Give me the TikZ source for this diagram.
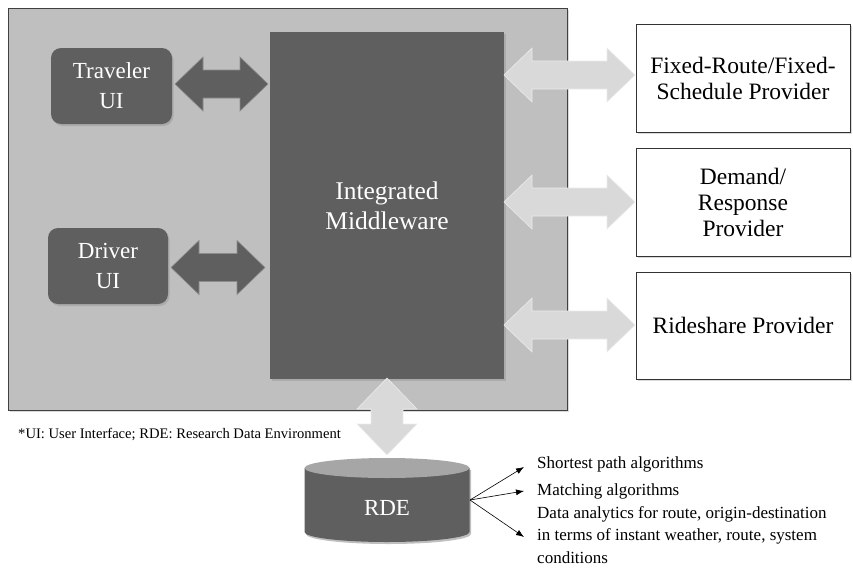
\documentclass[tikz,border=0pt]{standalone}
\usepackage{fontspec}
\setmainfont{Liberation Serif}
\usetikzlibrary{shadows,arrows.meta}
\definecolor{dkfill}{HTML}{5F5F5F}
\definecolor{panelfill}{HTML}{BFBFBF}
\definecolor{lightarrow}{HTML}{D9D9D9}
\definecolor{cyltop}{HTML}{A6A6A6}
\newcommand\fatHarrow[4]{%
  \draw[#4] (#1,#3) -- ({#1+28},{#3-27}) -- ({#1+28},{#3-14}) -- ({#2-28},{#3-14}) -- ({#2-28},{#3-27}) -- (#2,#3) -- ({#2-28},{#3+27}) -- ({#2-28},{#3+14}) -- ({#1+28},{#3+14}) -- ({#1+28},{#3+27}) -- cycle;}
\newcommand\fatVarrow[4]{%
  \draw[#4] (#3,#1) -- ({#3+30},{#1+31}) -- ({#3+16},{#1+31}) -- ({#3+16},{#2-31}) -- ({#3+30},{#2-31}) -- (#3,#2) -- ({#3-30},{#2-31}) -- ({#3-16},{#2-31}) -- ({#3-16},{#1+31}) -- ({#3-30},{#1+31}) -- cycle;}
\begin{document}
\begin{tikzpicture}[x=1pt,y=-1pt,
  shadowed/.style={drop shadow={shadow xshift=1.5pt,shadow yshift=-2pt,opacity=0.3}},
  panel/.style={draw=black!75, line width=0.8pt, fill=panelfill, minimum width=559pt, minimum height=402pt, inner sep=0pt},
  darkbox/.style={fill=dkfill, draw=none, text=white, align=center, inner sep=0pt, font=\fontsize{25.5}{30}\selectfont},
  uibox/.style={darkbox, rounded corners=10pt, font=\fontsize{23}{30}\selectfont},
  provbox/.style={fill=white, draw=black!80, line width=0.8pt, minimum width=214pt, minimum height=108pt, align=center, font=\fontsize{23.5}{26}\selectfont, inner sep=0pt},
  darrow/.style={fill=dkfill, draw=black!45, line width=0.6pt},
  larrow/.style={fill=lightarrow, draw=white!92!black, line width=0.6pt},
  note/.style={font=\fontsize{17}{22.5}\selectfont, anchor=west, align=left, inner sep=0pt},
  ptr/.style={-{Latex[length=8pt,width=6pt]}, line width=0.6pt}]
\useasboundingbox (0,0) rectangle (853,570);
% panel
\node[panel, shadowed] (panel) at (287.5,209) {};
\node[darkbox, shadowed, minimum width=234pt, minimum height=347pt] (mw) at (387,205.5) {Integrated\\Middleware};
\node[uibox, shadowed, minimum width=121pt, minimum height=76pt] (trav) at (111.5,86) {Traveler\\UI};
\node[uibox, shadowed, minimum width=120pt, minimum height=76pt] (drv) at (108,266) {Driver\\UI};
\fatHarrow{175}{268}{84}{darrow}
\fatHarrow{171}{265}{267.5}{darrow}
% providers
\node[provbox, shadowed] (p1) at (743,78) {Fixed-Route/Fixed-\\Schedule Provider};
\node[provbox, shadowed] (p2) at (743,202) {Demand/\\Response\\Provider};
\node[provbox, shadowed, minimum height=107pt] (p3) at (743,325.5) {Rideshare Provider};
\fatHarrow{504}{635}{75}{larrow}
\fatHarrow{504}{635}{202}{larrow}
\fatHarrow{504}{635}{325}{larrow}
% vertical arrow
\fatVarrow{378}{455}{387}{larrow}
% footnote
\node[anchor=west, inner sep=0pt, font=\fontsize{14.6}{16}\selectfont] (fn) at (18,434) {*UI: User Interface; RDE: Research Data Environment};
% cylinder
\fill[black, opacity=0.25] (306,470) -- (306,534) arc[start angle=180,end angle=360,x radius=82.5pt,y radius=10pt] -- (471,470) -- cycle;
\fill[dkfill] (304.5,468) -- (304.5,532) arc[start angle=180,end angle=360,x radius=82.5pt,y radius=10pt] -- (469.5,468) -- cycle;
\fill[cyltop] (387,468) ellipse [x radius=82.5pt, y radius=10pt];
\node[text=white, font=\fontsize{23}{26}\selectfont] (rde) at (387,508) {RDE};
\coordinate (rdeR) at (470,500);
% notes
\node[note] (sp) at (537,464) {Shortest path algorithms};
\node[note] (ma) at (537,491) {Matching algorithms};
\node[note] (da) at (537,535) {Data analytics for route, origin-destination\\in terms of instant weather, route, system\\conditions};
\coordinate (spT) at (524,467);
\coordinate (maT) at (524,491);
\coordinate (daT) at (524,537);
\draw[ptr] (rdeR) -- (spT);
\draw[ptr] (rdeR) -- (maT);
\draw[ptr] (rdeR) -- (daT);
\end{tikzpicture}
\end{document}
